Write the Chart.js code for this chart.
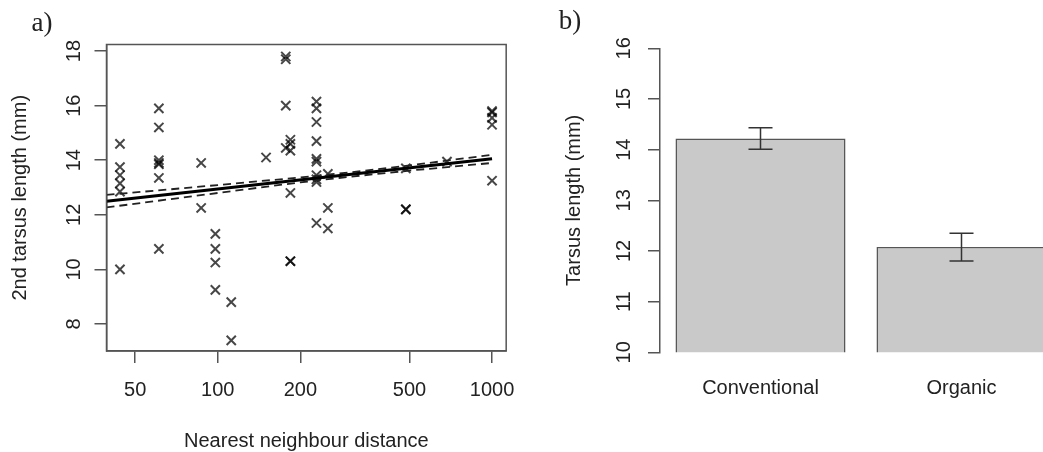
<!DOCTYPE html>
<html>
<head>
<meta charset="utf-8">
<script src="https://cdn.jsdelivr.net/npm/chart.js@4.4.1/dist/chart.umd.min.js"></script>
<style>
  html, body { margin: 0; padding: 0; background: #fff; overflow: hidden; width: 1043px; height: 452px; }
  canvas { position: absolute; top: 0; }
</style>
</head>
<body>
<canvas id="chartA" width="530" height="452" style="left:0"></canvas>
<canvas id="chartB" width="540" height="452" style="left:540px"></canvas>
<script>
// a) nearest neighbour distance vs 2nd tarsus length (one entry per bird)
const nnDistance = [
  44, 44, 44, 44, 44, 44,
  61, 61, 61, 61, 61, 61, 61,
  87, 87,
  98, 98, 98, 98,
  112, 112,
  150,
  177, 177, 177, 177,
  184, 184, 184, 184, 184, 184,
  229, 229, 229, 229, 229, 229, 229, 229, 229, 229,
  252, 252, 252,
  485, 485, 485,
  685,
  1000, 1000, 1000, 1000, 1000
];
const tarsus2nd = [
  14.6, 13.75, 13.45, 13.15, 12.85, 10.0,
  15.9, 15.2, 14.0, 13.9, 13.85, 13.35, 10.75,
  13.9, 12.25,
  11.3, 10.75, 10.25, 9.25,
  8.8, 7.4,
  14.1,
  17.8, 17.7, 16.0, 14.45,
  14.75, 14.6, 14.35, 12.8, 10.3, 10.3,
  16.15, 15.9, 15.4, 14.7, 14.05, 13.95, 13.45, 13.3, 13.2, 11.7,
  13.5, 12.25, 11.5,
  13.7, 12.2, 12.2,
  13.95,
  15.8, 15.75, 15.55, 15.3, 13.25
];

// fitted line and its confidence band
const fitX = [39.3, 1000];
const fitY = [12.5, 14.05];
const bandX = [39.3, 60, 100, 200, 300, 500, 1000];
const bandUpper = [12.73, 12.89, 13.09, 13.37, 13.55, 13.81, 14.2];
const bandLower = [12.27, 12.51, 12.8, 13.19, 13.39, 13.62, 13.9];

const distTicks = [50, 100, 200, 500, 1000];
const tarsusTicks = [8, 10, 12, 14, 16, 18];

// b) farm type means with error bars
const farmTypes = ['Conventional', 'Organic'];
const tarsusMean = [14.22, 12.08];
const errLow = [14.01, 11.8];
const errHigh = [14.43, 12.35];
const meanTicks = [10, 11, 12, 13, 14, 15, 16];

const sans = '"Liberation Sans", Arial, sans-serif';
const serif = '"Liberation Serif", "Times New Roman", serif';
const axisCol = '#555';
const textCol = '#222';

const toXY = (xs, ys) => xs.map((x, i) => ({ x: x, y: ys[i] }));

// rotated y tick labels, R style
function drawYLabels(chart, x) {
  const ctx = chart.ctx, s = chart.scales.y;
  ctx.save();
  ctx.fillStyle = textCol;
  ctx.font = '20px ' + sans;
  ctx.textAlign = 'center';
  ctx.textBaseline = 'middle';
  s.ticks.forEach(t => {
    ctx.save();
    ctx.translate(x, s.getPixelForValue(t.value));
    ctx.rotate(-Math.PI / 2);
    ctx.fillText(String(t.value), 0, 0);
    ctx.restore();
  });
  ctx.restore();
}

function drawText(ctx, txt, x, y, font, rot) {
  ctx.save();
  ctx.fillStyle = textCol;
  ctx.font = font;
  ctx.textAlign = 'center';
  ctx.textBaseline = 'middle';
  ctx.translate(x, y);
  if (rot) ctx.rotate(rot);
  ctx.fillText(txt, 0, 0);
  ctx.restore();
}

const panelA = {
  id: 'panelA',
  afterDraw(chart) {
    const ctx = chart.ctx, a = chart.chartArea;
    ctx.save();
    ctx.strokeStyle = axisCol;
    ctx.lineWidth = 1.5;
    ctx.strokeRect(a.left, a.top, a.right - a.left, a.bottom - a.top);
    ctx.restore();
    drawYLabels(chart, 74.4);
    drawText(ctx, '2nd tarsus length (mm)', 20.3, (a.top + a.bottom) / 2, '20px ' + sans, -Math.PI / 2);
    drawText(ctx, 'Nearest neighbour distance', (a.left + a.right) / 2, 441, '20px ' + sans);
    drawText(ctx, 'a)', 42, 24, '27px ' + serif);
  }
};

const panelB = {
  id: 'panelB',
  afterDraw(chart) {
    const ctx = chart.ctx, a = chart.chartArea;
    const xs = chart.scales.x, ys = chart.scales.y;
    ctx.save();
    ctx.strokeStyle = '#333';
    ctx.lineWidth = 1.5;
    farmTypes.forEach((f, i) => {
      const cx = xs.getPixelForValue(i);
      const lo = ys.getPixelForValue(errLow[i]);
      const hi = ys.getPixelForValue(errHigh[i]);
      ctx.beginPath();
      ctx.moveTo(cx, lo); ctx.lineTo(cx, hi);
      ctx.moveTo(cx - 12, lo); ctx.lineTo(cx + 12, lo);
      ctx.moveTo(cx - 12, hi); ctx.lineTo(cx + 12, hi);
      ctx.stroke();
    });
    ctx.restore();
    drawYLabels(chart, 84);
    drawText(ctx, 'Tarsus length (mm)', 34.5, (a.top + a.bottom) / 2, '20px ' + sans, -Math.PI / 2);
    drawText(ctx, 'b)', 30, 22, '27px ' + serif);
  }
};

const chartA = new Chart('chartA', {
  type: 'scatter',
  data: {
    datasets: [
      {
        data: toXY(fitX, fitY), showLine: true, pointRadius: 0,
        borderColor: '#000', borderWidth: 3
      },
      {
        data: toXY(bandX, bandUpper), showLine: true, pointRadius: 0,
        borderColor: '#222', borderWidth: 1.8, borderDash: [8, 5]
      },
      {
        data: toXY(bandX, bandLower), showLine: true, pointRadius: 0,
        borderColor: '#222', borderWidth: 1.8, borderDash: [8, 5]
      },
      {
        data: toXY(nnDistance, tarsus2nd),
        pointStyle: 'crossRot', pointRadius: 6.5,
        borderColor: 'rgba(0,0,0,0.72)', backgroundColor: 'rgba(0,0,0,0.72)', pointBorderWidth: 2
      }
    ]
  },
  options: {
    responsive: false,
    animation: false,
    layout: { padding: { left: 0, top: 44.5, right: 20, bottom: 0 } },
    plugins: { legend: { display: false }, tooltip: { enabled: false } },
    scales: {
      x: {
        type: 'logarithmic', min: 39.3, max: 1126,
        afterBuildTicks: s => { s.ticks = distTicks.map(v => ({ value: v })); },
        afterFit: s => { s.height = 101; },
        grid: { drawOnChartArea: false, tickLength: 12, color: axisCol, lineWidth: 1.5 },
        border: { color: axisCol, width: 1.5 },
        ticks: {
          autoSkip: false, maxRotation: 0, padding: 15, color: textCol,
          font: { family: sans, size: 20 }, callback: v => String(v)
        }
      },
      y: {
        min: 7.01, max: 18.24,
        afterBuildTicks: s => { s.ticks = tarsusTicks.map(v => ({ value: v })); },
        afterFit: s => { s.width = 106.5; },
        grid: { drawOnChartArea: false, tickLength: 12, color: axisCol, lineWidth: 1.5 },
        border: { color: axisCol, width: 1.5 },
        ticks: { display: false }
      }
    }
  },
  plugins: [panelA]
});

const chartB = new Chart('chartB', {
  type: 'bar',
  data: {
    labels: farmTypes,
    datasets: [{
      data: tarsusMean,
      backgroundColor: '#c9c9c9',
      borderColor: '#555',
      borderWidth: 1.5,
      categoryPercentage: 1,
      barPercentage: 0.846
    }]
  },
  options: {
    responsive: false,
    animation: false,
    layout: { padding: { left: 0, top: 48.3, right: 18, bottom: 0 } },
    plugins: { legend: { display: false }, tooltip: { enabled: false } },
    scales: {
      x: {
        afterFit: s => { s.height = 99.7; },
        grid: { display: false, drawTicks: false },
        border: { display: false },
        ticks: { padding: 24, color: textCol, font: { family: sans, size: 20 } }
      },
      y: {
        min: 10, max: 16,
        afterBuildTicks: s => { s.ticks = meanTicks.map(v => ({ value: v })); },
        afterFit: s => { s.width = 120; },
        grid: { drawOnChartArea: false, tickLength: 12, color: axisCol, lineWidth: 1.5 },
        border: { color: axisCol, width: 1.5 },
        ticks: { display: false }
      }
    }
  },
  plugins: [panelB]
});
</script>
</body>
</html>
